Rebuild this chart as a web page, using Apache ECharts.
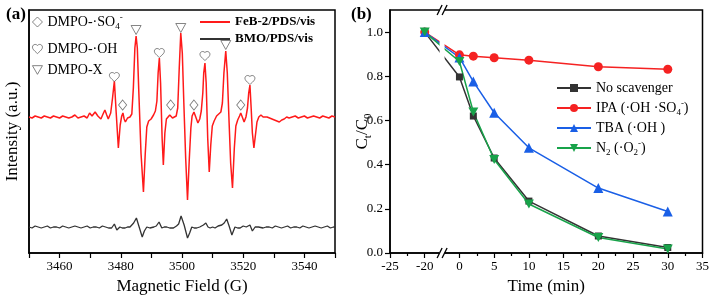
<!DOCTYPE html>
<html>
<head>
<meta charset="utf-8">
<script src="https://cdn.jsdelivr.net/npm/echarts@6/dist/echarts.min.js"></script>
<style>
html, body { margin: 0; padding: 0; background: #fff; }
#chart { width: 712px; height: 302px; }
</style>
</head>
<body>
<div id="chart"></div>
<script>
// (a) EPR spectra, [field G, intensity a.u.]
const redTrace = [
  [3450,136],[3451,135],[3452,137],[3453,136],[3454,135],[3455,137],[3456,136],[3457,135],[3458,137],[3459,136],
  [3460,135],[3461,137],[3462,136],[3463,135],[3464,136],[3465,138],[3466,135],[3467,136],[3468,137],[3469,135],
  [3469.8,140],[3470.6,137],[3471.6,141],[3472.5,137],[3473.5,134],[3474.2,139],[3474.8,143],[3475.4,138],[3475.9,134],
  [3476.7,140],[3477.3,155],[3477.9,172],[3478.5,140],[3479.2,105],[3479.8,128],[3480.3,137],[3480.7,140],[3481.1,134],
  [3481.5,131],[3482.2,135],[3483.0,136],[3483.6,139],[3484.1,165],[3484.6,205],[3485.0,217],[3485.4,205],[3485.9,160],
  [3486.6,100],[3487.4,61],[3488.0,100],[3488.5,126],[3489.1,132],[3489.9,134],[3490.7,138],[3491.3,142],[3491.8,152],
  [3492.2,180],[3492.6,195],[3493.0,170],[3493.5,115],[3493.9,88],[3494.4,120],[3494.9,134],[3495.5,135],[3496.0,138],
  [3496.4,139],[3496.9,135],[3497.5,133],[3498.1,137],[3498.6,145],[3499.1,185],[3499.6,220],[3500.1,200],[3500.6,150],
  [3501.2,95],[3501.8,53],[3502.4,95],[3502.9,125],[3503.3,137],[3503.9,141],[3504.5,136],[3505.2,130],[3505.8,134],
  [3506.3,142],[3506.8,160],[3507.1,180],[3507.5,190],[3507.9,170],[3508.4,115],[3508.9,81],[3509.4,108],[3509.9,127],
  [3510.5,132],[3511.3,137],[3512.0,139],[3512.7,141],[3513.2,150],[3513.7,180],[3514.3,202],[3514.8,180],[3515.4,130],
  [3515.9,90],[3516.5,65],[3517.1,105],[3517.6,127],[3518.2,133],[3518.8,137],[3519.2,140],[3519.7,136],[3520.3,131],
  [3520.9,136],[3521.4,145],[3521.8,160],[3522.2,168],[3522.6,145],[3523.0,120],[3523.5,105],[3524.0,118],[3524.5,131],
  [3525.1,136],[3525.8,138],[3526.5,136],[3527.1,138],[3527.8,136],[3528.6,135],[3529.4,134],[3530.2,133],[3531,132],
  [3531.8,131],[3532.6,133],[3533.4,134],[3534.2,136],[3535,135],[3536,136],[3537,137],[3538,135],[3539,136],[3540,137],
  [3541,135],[3542,136],[3543,137],[3544,136],[3545,135],[3546,137],[3547,136],[3548,135],[3549,137],[3550,136]
];
const blackTrace = [
  [3450,26],[3451,25],[3452,27],[3453,26],[3454,25],[3455,26],[3456,27],[3457,25],[3458,26],[3459,26],
  [3460,25],[3461,27],[3462,26],[3463,25],[3464,26],[3465,27],[3466,26],[3467,25],[3468,26],[3469,27],
  [3470,25],[3471,26],[3472,26],[3473,25],[3474,27],[3475,26],[3476,25],[3477,25],[3477.9,29],[3478.7,23],
  [3479.7,26],[3480.5,25],[3481.4,25],[3482.2,26],[3483,26],[3484.2,30],[3485.1,35],[3485.9,27],[3487,16],
  [3487.7,22],[3488.5,26],[3489.5,25],[3490.8,26],[3491.6,27],[3492.5,31],[3493.4,25],[3494.2,26],[3495,26],
  [3496,25],[3497.2,25],[3498.2,27],[3498.9,29],[3499.7,37],[3500.7,28],[3501.8,15],[3502.5,20],[3503.2,26],
  [3504,25],[3504.8,25],[3505.8,26],[3507,28],[3507.8,30],[3508.5,26],[3509.2,25],[3510,26],[3510.8,25],
  [3511.8,27],[3513,28],[3513.8,30],[3514.6,34],[3515.4,27],[3516.3,18],[3517.3,26],[3518.2,25],[3519,25],
  [3520,27],[3521,26],[3522.2,28],[3523,22],[3523.9,26],[3525,26],[3525.5,27],[3526.5,25],[3527.5,26],[3528.5,26],
  [3529.5,25],[3530.5,27],[3531.5,26],[3532.5,25],[3533.5,26],[3534.5,27],[3535.5,25],[3536.5,26],[3537.5,26],
  [3538.5,25],[3539.5,27],[3540.5,26],[3541.5,25],[3542.5,26],[3543.5,27],[3544.5,26],[3545.5,25],[3546.5,26],
  [3547.5,27],[3548.5,25],[3549.5,26],[3550,26]
];
// peak markers
const sulfateMarks = [[3480.6,148],[3496.3,148],[3503.9,148],[3519.2,148]];
const hydroxylMarks = [[3477.9,176],[3492.6,200],[3507.5,197],[3522.2,173]];
const xMarks = [[3485.0,223],[3499.6,225],[3514.3,208]];

// (b) scavenger experiments
const timeMin = [-20, 0, 2, 5, 10, 20, 30];
const noScavenger = [1.0, 0.797, 0.62, 0.43, 0.235, 0.077, 0.025];
const ipa = [1.0, 0.897, 0.891, 0.884, 0.873, 0.843, 0.832];
const tba = [1.0, 0.885, 0.776, 0.635, 0.476, 0.294, 0.188];
const n2 = [1.0, 0.867, 0.638, 0.423, 0.222, 0.07, 0.018];
const yTicksB = [0, 0.2, 0.4, 0.6, 0.8, 1.0];

// broken time axis: -25..-20 shifted next to 0
const toAxis = t => t < 0 ? t + 15 : t;
const fromAxis = v => v < 0 ? v - 15 : v;
const breakAt = -2.5;

const serif = '"Liberation Serif", "Times New Roman", serif';
const heart = 'path://M12 21.35l-1.45-1.32C5.4 15.36 2 12.28 2 8.5 2 5.42 4.42 3 7.5 3c1.74 0 3.41.81 4.5 2.09C13.09 3.81 14.76 3 16.5 3 19.58 3 22 5.42 22 8.5c0 3.78-3.4 6.86-8.55 11.54L12 21.35z';
const downTri = 'path://M0,0L10,0L5,8.66Z';
const markStyle = { color: '#fff', borderColor: '#555', borderWidth: 0.9 };

const rich = {
  t: { fontFamily: serif, fontSize: 14, lineHeight: 18, color: '#000' },
  sub: { fontFamily: serif, fontSize: 9, lineHeight: 18, verticalAlign: 'bottom', color: '#000' },
  sup: { fontFamily: serif, fontSize: 9, lineHeight: 18, verticalAlign: 'top', color: '#000' }
};
const legendLabels = {
  'DMPO-·SO4-': '{t|DMPO-·SO}{sub|4}{sup|-}',
  'DMPO-·OH': '{t|DMPO-·OH}',
  'DMPO-X': '{t|DMPO-X}',
  'No scavenger': '{t|No scavenger}',
  'IPA': '{t|IPA (·OH ·SO}{sub|4}{sup|-}{t|)}',
  'TBA': '{t|TBA (·OH )}',
  'N2': '{t|N}{sub|2}{t| (·O}{sub|2}{sup|-}{t|)}'
};
const fmt = name => legendLabels[name] || name;

const pair = arr => timeMin.map((t, i) => [toAxis(t), arr[i]]);

const axisBase = {
  axisLine: { show: true, onZero: false, lineStyle: { color: '#000', width: 1.5 } },
  axisTick: { show: true, inside: false, length: 5, lineStyle: { color: '#000', width: 1.2 } },
  axisLabel: { color: '#000', fontFamily: serif, fontSize: 13, margin: 7 },
  splitLine: { show: false },
  nameTextStyle: { color: '#000', fontFamily: serif, fontSize: 17 }
};
const markLegend = (name, top) => ({
  data: [name], left: 32, top, padding: 0, itemWidth: 10, itemHeight: 10, formatter: fmt, textStyle: { rich },
  itemStyle: { color: '#fff', borderColor: '#555', borderWidth: 0.9 }
});

const chart = echarts.init(document.getElementById('chart'));
chart.setOption({
  animation: false,
  backgroundColor: '#fff',
  title: [
    { text: '(a)', left: 1, top: 1, textStyle: { fontFamily: serif, fontSize: 17, fontWeight: 'bold', color: '#000' } },
    { text: '(b)', left: 346, top: 1, textStyle: { fontFamily: serif, fontSize: 17, fontWeight: 'bold', color: '#000' } }
  ],
  grid: [
    { left: 29, top: 10, width: 306, height: 243, show: true, borderColor: '#000', borderWidth: 1.5 },
    { left: 390, top: 10, width: 313, height: 243, show: true, borderColor: '#000', borderWidth: 1.5 }
  ],
  legend: [
    { data: [{ name: 'FeB-2/PDS/vis', icon: 'rect' }, { name: 'BMO/PDS/vis', icon: 'rect' }], orient: 'vertical', left: 200, top: 14, padding: 0,
      itemWidth: 30, itemHeight: 2, itemGap: 1,
      textStyle: { fontFamily: serif, fontSize: 13, fontWeight: 'bold', color: '#000', lineHeight: 16 } },
    markLegend('DMPO-·SO4-', 13),
    markLegend('DMPO-·OH', 42),
    markLegend('DMPO-X', 63),
    { data: ['No scavenger', 'IPA', 'TBA', 'N2'], orient: 'vertical', left: 556, top: 81, padding: 0,
      itemWidth: 34, itemHeight: 10, itemGap: 4, formatter: fmt, textStyle: { rich } }
  ],
  xAxis: [
    Object.assign({}, axisBase, {
      gridIndex: 0, type: 'value', min: 3450, max: 3550, interval: 10,
      name: 'Magnetic Field (G)', nameLocation: 'middle', nameGap: 24,
      axisLabel: Object.assign({}, axisBase.axisLabel, { formatter: v => (v % 20 === 0 ? String(v) : '') })
    }),
    Object.assign({}, axisBase, {
      gridIndex: 1, type: 'value', min: -10, max: 35, interval: 5,
      name: 'Time (min)', nameLocation: 'middle', nameGap: 24,
      minorTick: { show: true, splitNumber: 2, length: 3, lineStyle: { color: '#000', width: 1.2 } },
      axisLabel: Object.assign({}, axisBase.axisLabel, { formatter: v => String(fromAxis(v)) })
    })
  ],
  yAxis: [
    Object.assign({}, axisBase, {
      gridIndex: 0, type: 'value', min: 0, max: 243,
      axisTick: { show: false }, axisLabel: { show: false },
      name: 'Intensity (a.u.)', nameLocation: 'middle', nameGap: 8
    }),
    Object.assign({}, axisBase, {
      gridIndex: 1, type: 'value', min: 0, max: 1.1, interval: 0.2,
      axisTick: Object.assign({}, axisBase.axisTick, { customValues: yTicksB }),
      axisLabel: Object.assign({}, axisBase.axisLabel, { customValues: yTicksB, formatter: v => (v > 1.05 ? '' : v.toFixed(1)) }),
      name: '{t|C}{sub|t}{t|/C}{sub|0}', nameLocation: 'middle', nameGap: 16, nameMoveOverlap: false,
      nameTextStyle: { rich: {
        t: { fontFamily: serif, fontSize: 17, lineHeight: 22, color: '#000' },
        sub: { fontFamily: serif, fontSize: 11, lineHeight: 22, verticalAlign: 'bottom', color: '#000' }
      } }
    })
  ],
  series: [
    { name: 'FeB-2/PDS/vis', type: 'line', xAxisIndex: 0, yAxisIndex: 0, data: redTrace, showSymbol: false, symbol: 'none',
      lineStyle: { color: '#ff1a1a', width: 1.5 }, itemStyle: { color: '#ff1a1a' } },
    { name: 'BMO/PDS/vis', type: 'line', xAxisIndex: 0, yAxisIndex: 0, data: blackTrace, showSymbol: false, symbol: 'none',
      lineStyle: { color: '#333', width: 1.3 }, itemStyle: { color: '#333' } },
    { name: 'DMPO-·SO4-', type: 'scatter', xAxisIndex: 0, yAxisIndex: 0, data: sulfateMarks, symbol: 'diamond', symbolSize: [8, 10], itemStyle: markStyle, z: 5 },
    { name: 'DMPO-·OH', type: 'scatter', xAxisIndex: 0, yAxisIndex: 0, data: hydroxylMarks, symbol: heart, symbolSize: [10, 9], itemStyle: markStyle, z: 5 },
    { name: 'DMPO-X', type: 'scatter', xAxisIndex: 0, yAxisIndex: 0, data: xMarks, symbol: downTri, symbolSize: [10, 9], itemStyle: markStyle, z: 5 },

    { name: 'No scavenger', type: 'line', xAxisIndex: 1, yAxisIndex: 1, data: pair(noScavenger), symbol: 'rect', symbolSize: 7,
      lineStyle: { color: '#333', width: 1.5 }, itemStyle: { color: '#333' } },
    { name: 'IPA', type: 'line', xAxisIndex: 1, yAxisIndex: 1, data: pair(ipa), symbol: 'circle', symbolSize: 9,
      lineStyle: { color: '#f52222', width: 1.5 }, itemStyle: { color: '#f52222' } },
    { name: 'TBA', type: 'line', xAxisIndex: 1, yAxisIndex: 1, data: pair(tba), symbol: 'triangle', symbolSize: 10,
      lineStyle: { color: '#1a5fe6', width: 1.5 }, itemStyle: { color: '#1a5fe6' } },
    { name: 'N2', type: 'line', xAxisIndex: 1, yAxisIndex: 1, data: pair(n2), symbol: downTri, symbolSize: [10, 9],
      lineStyle: { color: '#18a34a', width: 1.5 }, itemStyle: { color: '#18a34a' } }
  ]
});

// axis break: white gap + "//" on top and bottom edges
const bx = chart.convertToPixel({ xAxisIndex: 1 }, breakAt);
const yTop = chart.convertToPixel({ yAxisIndex: 1 }, 1.1);
const yBot = chart.convertToPixel({ yAxisIndex: 1 }, 0);
const slash = (cx, cy) => ({ type: 'line', z: 101, shape: { x1: cx - 2.5, y1: cy + 5, x2: cx + 2.5, y2: cy - 5 }, style: { stroke: '#000', lineWidth: 1.3 } });
chart.setOption({
  graphic: [
    { type: 'rect', z: 100, shape: { x: bx - 2.5, y: yTop - 3, width: 5, height: yBot - yTop + 6 }, style: { fill: '#fff' } },
    slash(bx - 2.5, yTop), slash(bx + 2.5, yTop),
    slash(bx - 2.5, yBot), slash(bx + 2.5, yBot)
  ]
});
</script>
</body>
</html>
